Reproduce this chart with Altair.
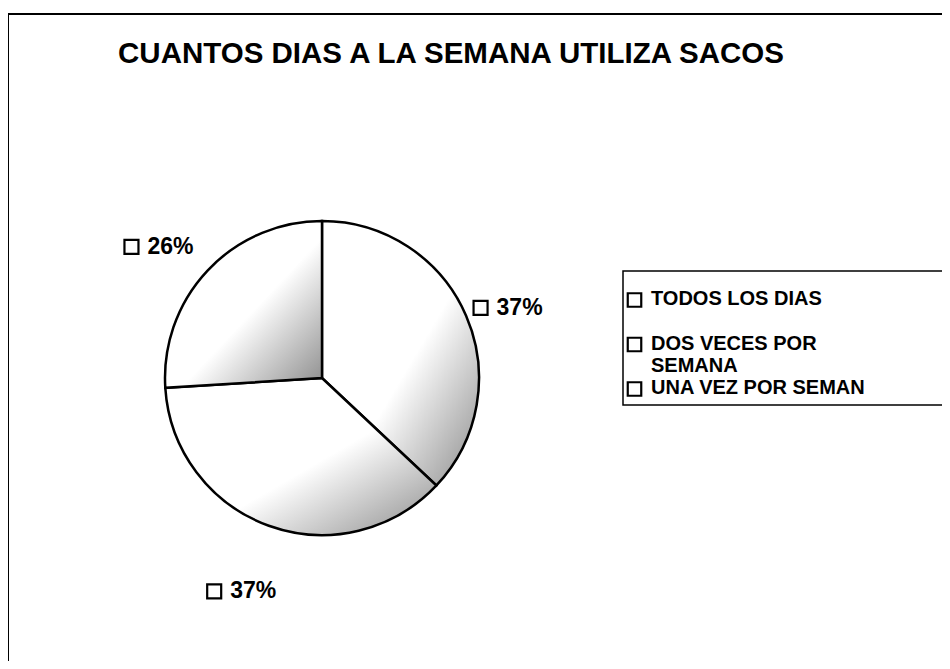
import altair as alt
import pandas as pd

title_text = "CUANTOS DIAS A LA SEMANA UTILIZA SACOS"
categories = ["TODOS LOS DIAS", "DOS VECES POR SEMANA", "UNA VEZ POR SEMAN"]
percentages = [37, 37, 26]
slice_order = [0, 1, 2]

df = pd.DataFrame({"cat": categories, "pct": percentages, "ord": slice_order})

W, H = 934, 653
CX, CY, R = 314, 370, 157
LR = 212  # label radius
FONT = "Liberation Sans"

base = alt.Chart(df).encode(
    theta=alt.Theta("pct:Q", stack=True),
    order=alt.Order("ord:Q"),
)

grad = alt.Gradient(
    gradient="linear", x1=0, y1=0, x2=1, y2=1,
    stops=[alt.GradientStop(offset=0, color="white"),
           alt.GradientStop(offset=0.55, color="white"),
           alt.GradientStop(offset=1, color="#8c8c8c")],
)
pie = base.mark_arc(outerRadius=R, x=CX, y=CY, fill=grad, stroke="black", strokeWidth=2.5)

# data labels positioned at the middle angle of each slice
lab = alt.Chart(df).transform_joinaggregate(
    total="sum(pct)"
).transform_window(
    cum="sum(pct)", sort=[alt.SortField("ord")]
).transform_calculate(
    mid="(datum.cum - datum.pct / 2) / datum.total * 2 * PI",
    lbl="datum.pct + '%'",
).transform_calculate(
    tx=f"{CX} + {LR} * sin(datum.mid) + 3",
    ty=f"{CY} - {LR} * cos(datum.mid) + 14",
)
pct_text = lab.mark_text(font=FONT, fontWeight="bold", fontSize=23, color="black").encode(
    x=alt.X("tx:Q", scale=None), y=alt.Y("ty:Q", scale=None), text="lbl:N"
)
pct_box = lab.transform_calculate(bx="datum.tx - 39").mark_square(
    size=196, filled=True, fill="white", stroke="black", strokeWidth=2.2, opacity=1
).encode(x=alt.X("bx:Q", scale=None), y=alt.Y("ty:Q", scale=None))

# legend (Excel-style, symbol aligned with the first line of each entry)
leg_y = alt.Y("ord:O", scale=alt.Scale(type="point", range=[292, 381], padding=0), axis=None)
leg_text = alt.Chart(df).transform_calculate(
    disp="datum.cat == 'DOS VECES POR SEMANA' ? 'DOS VECES POR\\nSEMANA' : datum.cat"
).mark_text(
    align="left", baseline="top", dy=-11, x=643, font=FONT, fontWeight="bold",
    fontSize=20, lineHeight=22, lineBreak="\n", color="black"
).encode(y=leg_y, text="disp:N")
leg_sym = alt.Chart(df).mark_square(
    size=182, x=626.5, filled=True, fill="white", stroke="black", strokeWidth=2.2, opacity=1
).encode(y=leg_y)

one = pd.DataFrame({"k": [0]})
title = alt.Chart(pd.DataFrame({"t": [title_text]})).mark_text(
    font=FONT, fontWeight="bold", fontSize=29.5, color="black", baseline="alphabetic"
).encode(text="t:N", x=alt.value(443), y=alt.value(55))

frame_left = alt.Chart(one).mark_rule(color="black", strokeWidth=2).encode(
    x=alt.value(0), y=alt.value(6), y2=alt.value(H))
frame_top = alt.Chart(one).mark_rule(color="black", strokeWidth=2).encode(
    x=alt.value(0), x2=alt.value(W), y=alt.value(6))
legend_box = alt.Chart(one).mark_rect(fill="white", stroke="black", strokeWidth=1.5).encode(
    x=alt.value(615), x2=alt.value(W + 20), y=alt.value(263), y2=alt.value(397))

chart = alt.layer(frame_left, frame_top, legend_box, pie, pct_box, pct_text, title,
                  leg_sym, leg_text).properties(
    width=W, height=H, padding=0, autosize="none", background="white"
).configure_view(stroke=None)

chart.save("out.html", embed_options={"renderer": "svg", "actions": False})
